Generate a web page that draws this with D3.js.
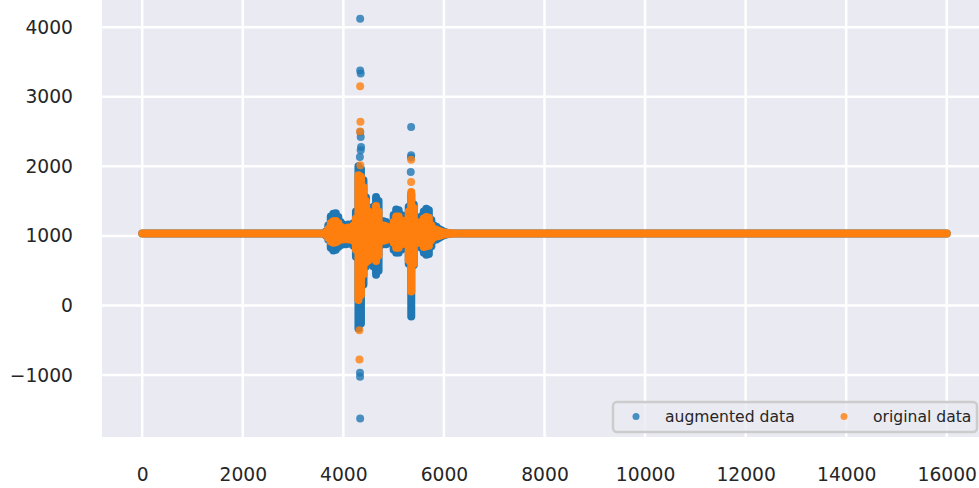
<!DOCTYPE html>
<html>
<head>
<meta charset="utf-8">
<script src="https://cdn.jsdelivr.net/npm/d3@7"></script>
<style>
  html, body { margin: 0; padding: 0; background: #fff; }
  svg { display: block; }
</style>
</head>
<body>
<div id="chart"></div>
<script>
// sample positions inside the burst (every 50 samples)
const burstX = [3650, 3700, 3750, 3800, 3850, 3900, 3950, 4000, 4050, 4100,
  4150, 4200, 4250, 4300, 4350, 4400, 4450, 4500, 4550, 4600,
  4650, 4700, 4750, 4800, 4850, 4900, 4950, 5000, 5050, 5100,
  5150, 5200, 5250, 5300, 5350, 5400, 5450, 5500, 5550, 5600,
  5650, 5700, 5750, 5800, 5850, 5900, 5950, 6000, 6050, 6100];

// upper / lower extent of the dense point cloud at each burst sample
const augHi = [1060, 1150, 1280, 1320, 1325, 1270, 1195, 1160, 1150, 1165,
  1140, 1180, 1350, 2000, 1960, 1800, 1550, 1400, 1350, 1420,
  1560, 1500, 1215, 1210, 1200, 1170, 1110, 1300, 1380, 1370,
  1300, 1260, 1290, 1420, 1600, 1450, 1250, 1240, 1280, 1350,
  1390, 1370, 1230, 1150, 1130, 1100, 1080, 1060, 1050, 1040];
const augLo = [1010, 950, 830, 790, 800, 840, 870, 880, 880, 890,
  890, 860, 700, -330, -260, 300, 560, 600, 700, 560,
  440, 500, 876, 880, 880, 900, 960, 800, 760, 760,
  800, 830, 820, 600, -160, 580, 860, 860, 830, 760,
  730, 740, 850, 940, 950, 970, 990, 1010, 1020, 1030];
const origHi = [1050, 1100, 1180, 1210, 1215, 1180, 1130, 1110, 1110, 1120,
  1100, 1150, 1250, 1870, 1850, 1700, 1500, 1350, 1300, 1300,
  1430, 1350, 1150, 1150, 1140, 1120, 1080, 1200, 1280, 1280,
  1220, 1200, 1220, 1350, 1630, 1400, 1200, 1180, 1200, 1250,
  1270, 1260, 1150, 1100, 1090, 1070, 1060, 1050, 1045, 1040];
const origLo = [1020, 970, 920, 900, 910, 930, 960, 950, 960, 950,
  960, 930, 800, 80, 150, 450, 620, 650, 700, 720,
  640, 720, 930, 930, 940, 960, 990, 900, 830, 830,
  880, 900, 880, 650, 200, 600, 900, 900, 900, 840,
  850, 860, 940, 980, 990, 1000, 1010, 1020, 1025, 1030];

// the long flat stretch of samples on both sides of the burst
const flatX = [0, 16000];
const flatLevel = 1035;

// isolated points standing clear of the cloud
const augOutX = [4334, 4334, 4345, 4336, 4345, 4352, 4345, 4328, 4330, 4332, 4334, 5348, 5348, 5345, 5340];
const augOutY = [4120, 3378, 3335, 2493, 2421, 2277, 2230, 2134, -967, -1025, -1623, 2564, 2158, 2128, 1918];
const origOutX = [4334, 4340, 4332, 4338, 4320, 4320, 5348, 5348];
const origOutY = [3149, 2640, 2500, 2014, -355, -775, 2096, 1775];

const xTicks = [0, 2000, 4000, 6000, 8000, 10000, 12000, 14000, 16000];
const yTicks = [-1000, 0, 1000, 2000, 3000, 4000];

const seriesNames = ["augmented data", "original data"];
const seriesColors = ["#1f77b4", "#ff7f0e"];

const width = 979, height = 488;
const plot = {left: 102, right: 987, top: 0, bottom: 437};
const r = 4;

const x = d3.scaleLinear().domain([-800, 16800]).range([plot.left, plot.right]);
const y = d3.scaleLinear().domain([-1890, 4390]).range([plot.bottom, plot.top]);

const svg = d3.select("#chart").append("svg")
    .attr("width", width)
    .attr("height", height)
    .attr("viewBox", [0, 0, width, height])
    .attr("font-family", "DejaVu Sans, sans-serif");

svg.append("defs").append("clipPath")
    .attr("id", "plot-clip")
  .append("rect")
    .attr("x", plot.left)
    .attr("y", plot.top)
    .attr("width", plot.right - plot.left)
    .attr("height", plot.bottom - plot.top);

// seaborn darkgrid background
svg.append("rect")
    .attr("x", plot.left)
    .attr("y", plot.top)
    .attr("width", plot.right - plot.left)
    .attr("height", plot.bottom - plot.top)
    .attr("fill", "#eaeaf2");

const grid = svg.append("g").attr("stroke", "#fff").attr("stroke-width", 2.5);
grid.selectAll(".gx").data(xTicks).join("line")
    .attr("x1", d => x(d)).attr("x2", d => x(d))
    .attr("y1", plot.top).attr("y2", plot.bottom);
grid.selectAll(".gy").data(yTicks).join("line")
    .attr("x1", plot.left).attr("x2", plot.right)
    .attr("y1", d => y(d)).attr("y2", d => y(d));

// axes (no tick marks, no domain line)
svg.append("g")
    .attr("transform", `translate(0,${plot.bottom})`)
    .call(d3.axisBottom(x).tickValues(xTicks).tickSize(0).tickPadding(31).tickFormat(d3.format("d")))
    .call(g => g.select(".domain").remove())
    .call(g => g.selectAll("text").attr("font-size", 18.7).attr("fill", "#262626").attr("font-family", "DejaVu Sans, sans-serif"));

svg.append("g")
    .attr("transform", `translate(${plot.left},0)`)
    .call(d3.axisLeft(y).tickValues(yTicks).tickSize(0).tickPadding(29).tickFormat(d => d < 0 ? "\u2212" + Math.abs(d) : d))
    .call(g => g.select(".domain").remove())
    .call(g => g.selectAll("text").attr("font-size", 18.7).attr("fill", "#262626").attr("font-family", "DejaVu Sans, sans-serif"));

const marks = svg.append("g").attr("clip-path", "url(#plot-clip)");

const series = [
  {hi: augHi, lo: augLo, outX: augOutX, outY: augOutY, color: seriesColors[0]},
  {hi: origHi, lo: origLo, outX: origOutX, outY: origOutY, color: seriesColors[1]}
];

const flatLine = d3.line().x(d => x(d)).y(() => y(flatLevel));

series.forEach(s => {
  const g = marks.append("g");

  // dense flat samples render as one continuous band of dots
  g.append("path")
      .attr("d", flatLine(flatX))
      .attr("fill", "none")
      .attr("stroke", s.color)
      .attr("stroke-width", 2 * r)
      .attr("stroke-linecap", "round");

  // dense columns of points in the burst
  g.selectAll(".col").data(burstX).join("line")
      .attr("x1", d => x(d)).attr("x2", d => x(d))
      .attr("y1", (d, i) => y(s.hi[i]))
      .attr("y2", (d, i) => y(s.lo[i]))
      .attr("stroke", s.color)
      .attr("stroke-width", 2 * r)
      .attr("stroke-linecap", "round");

  g.selectAll(".out").data(s.outX).join("circle")
      .attr("cx", d => x(d))
      .attr("cy", (d, i) => y(s.outY[i]))
      .attr("r", r)
      .attr("fill", s.color)
      .attr("fill-opacity", 0.8);
});

// legend, lower right
const legend = svg.append("g");
legend.append("rect")
    .attr("x", 613)
    .attr("y", 402)
    .attr("width", 364)
    .attr("height", 30)
    .attr("rx", 4)
    .attr("fill", "#eaeaf2")
    .attr("fill-opacity", 0.8)
    .attr("stroke", "#cccccc")
    .attr("stroke-width", 2.5);

const legendX = [636, 844];
legend.selectAll(".lm").data(seriesNames).join("circle")
    .attr("cx", (d, i) => legendX[i])
    .attr("cy", 416.5)
    .attr("r", 3.5)
    .attr("fill", (d, i) => seriesColors[i])
    .attr("fill-opacity", 0.8);

legend.selectAll(".lt").data(seriesNames).join("text")
    .attr("x", (d, i) => legendX[i] + 29)
    .attr("y", 422)
    .attr("font-size", 15.6)
    .attr("fill", "#262626")
    .text(d => d);
</script>
</body>
</html>
